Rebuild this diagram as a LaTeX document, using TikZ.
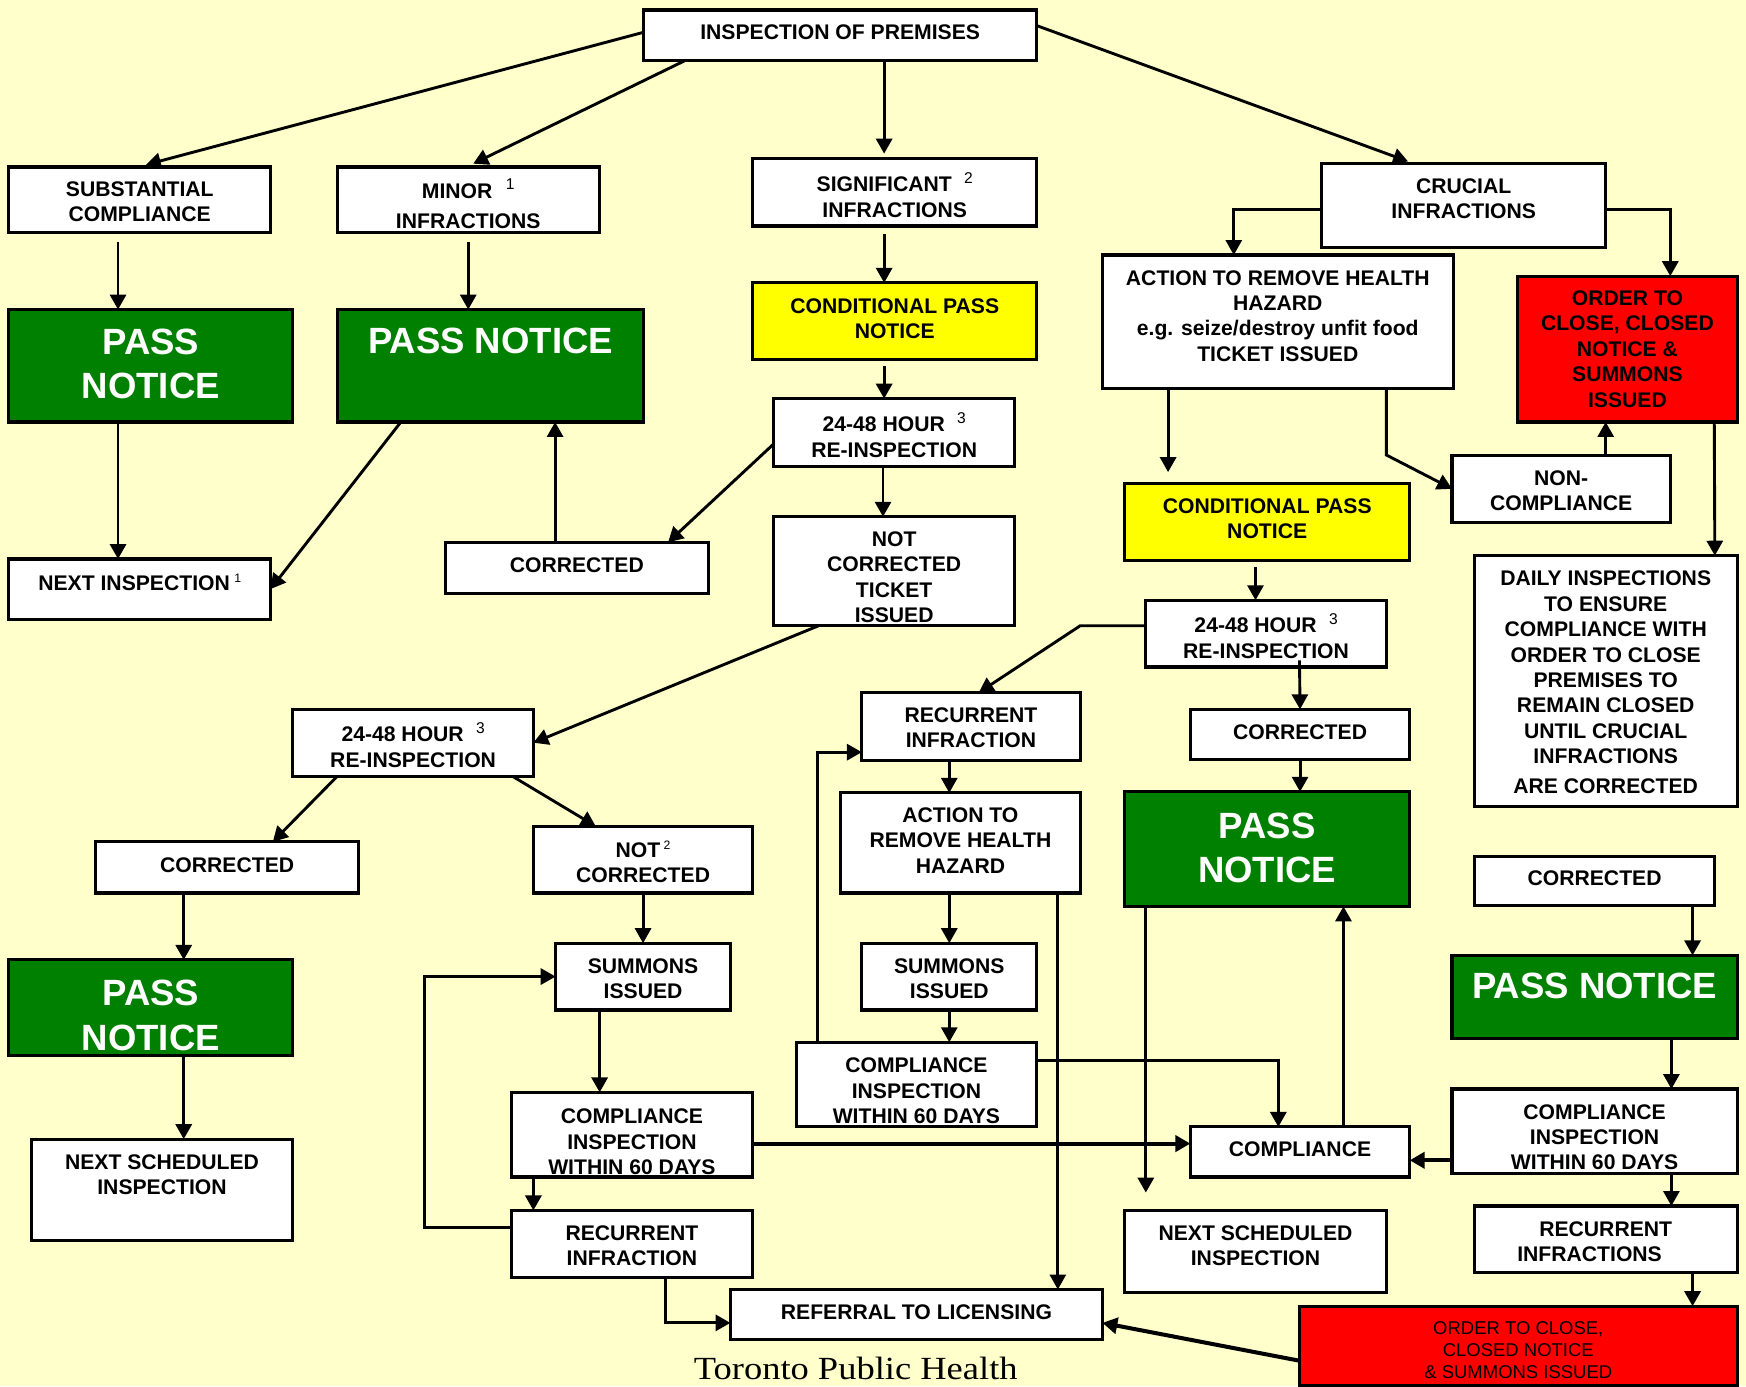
\documentclass[tikz,border=0pt]{standalone}
\usepackage{fontspec}
\usepackage{graphicx}
\setmainfont{Liberation Sans}
\newfontfamily\tphfont{Liberation Serif}
\usetikzlibrary{arrows.meta,calc}
\definecolor{bg}{HTML}{FFFFCC}
\definecolor{pgreen}{HTML}{008000}
\definecolor{pyellow}{HTML}{FFFF00}
\definecolor{pred}{HTML}{FF0000}
\newcommand\supA[1]{\raisebox{3.8pt}{\fontsize{7}{7}\selectfont\mdseries #1}}
\newcommand\supB[1]{\raisebox{3.3pt}{\fontsize{5.5}{5.5}\selectfont\mdseries #1}}
\tikzset{
 box/.style={draw=black, line width=1.4pt, fill=white, inner sep=0pt, outer sep=0pt},
 gbox/.style={box, fill=pgreen},
 ybox/.style={box, fill=pyellow},
 rbox/.style={box, fill=pred},
 txt/.style={align=center, inner sep=0pt, font=\fontsize{9.5}{11.4}\selectfont\bfseries},
 big/.style={txt, text=white, font=\fontsize{16.4}{20}\selectfont\bfseries},
 smalltxt/.style={txt, font=\fontsize{8.3}{10}\selectfont},
 conn/.style={line width=1.3pt, -{Triangle[length=6.7pt,width=7.2pt]}},
 thk/.style={conn, line width=1.8pt},
}
\newcommand\mkbox[9]{%
 \node[#6, minimum width={(#4-#2)*0.5pt}, minimum height={(#5-#3)*0.5pt}] (#1) at ({(#2+#4)/2},{(#3+#5)/2}) {};
 \node[#7] (#1-t) at ({(#2+#4)/2},#8) {#9};}
\begin{document}
\begin{tikzpicture}[x=0.5pt,y=-0.5pt]
\useasboundingbox (0,0) rectangle (1568,1245);
\fill[bg] (0,0) rectangle (1568,1245);

% boxes
\mkbox{ins}{578}{9}{931}{54}{box}{txt}{29}{INSPECTION OF PREMISES}
\mkbox{sub}{8}{150}{243}{209}{box}{txt}{181}{SUBSTANTIAL\\COMPLIANCE}
\mkbox{minor}{303}{150}{538}{209}{box}{txt}{183}{MINOR\hspace{6pt}\supA{1}\\[2.2pt]INFRACTIONS}
\mkbox{sig}{676}{142}{931}{203}{box}{txt}{175}{SIGNIFICANT\hspace{5.5pt}\supA{2}\\INFRACTIONS}
\mkbox{cru}{1187}{147}{1442}{222}{box}{txt}{178.5}{CRUCIAL\\INFRACTIONS}
\mkbox{p1}{8}{278}{263}{379}{gbox}{big}{326.7}{PASS\\NOTICE}
\mkbox{p2}{303}{278}{578}{379}{gbox}{big}{306.5}{PASS NOTICE}
\mkbox{cy}{676}{254}{931}{323}{ybox}{txt}{286}{CONDITIONAL PASS\\NOTICE}
\mkbox{at}{990}{229}{1305}{349}{box}{txt}{283.8}{ACTION TO REMOVE HEALTH\\HAZARD\\e.g. seize/destroy unfit food\\TICKET ISSUED}
\mkbox{red}{1363}{248}{1560}{379}{rbox}{txt}{313.5}{ORDER TO\\CLOSE, CLOSED\\NOTICE \&\\SUMMONS\\ISSUED}
\mkbox{r1}{695}{358}{911}{419}{box}{txt}{390.5}{24-48 HOUR\hspace{5.5pt}\supA{3}\\RE-INSPECTION}
\mkbox{ni}{8}{502}{243}{556}{box}{txt}{523}{NEXT INSPECTION\hspace{2pt}\supB{1}}
\mkbox{cm}{400}{487}{636}{533}{box}{txt}{507.5}{CORRECTED}
\mkbox{nct}{695}{464}{911}{562}{box}{txt}{518.3}{NOT\\CORRECTED\\TICKET\\ISSUED}
\mkbox{cy2}{1010}{434}{1266}{503}{ybox}{txt}{465.6}{CONDITIONAL PASS\\NOTICE}
\mkbox{nco}{1304}{409}{1500}{469}{box}{txt}{440.8}{NON-\\COMPLIANCE}
\mkbox{daily}{1324}{499}{1560}{724}{box}{txt}{612.8}{DAILY INSPECTIONS\\TO ENSURE\\COMPLIANCE WITH\\ORDER TO CLOSE\\PREMISES TO\\REMAIN CLOSED\\UNTIL CRUCIAL\\INFRACTIONS\\[2pt]ARE CORRECTED}
\mkbox{r3}{1029}{539}{1245}{599}{box}{txt}{571}{24-48 HOUR\hspace{5.5pt}\supA{3}\\RE-INSPECTION}
\mkbox{rm}{774}{622}{970}{683}{box}{txt}{653.8}{RECURRENT\\INFRACTION}
\mkbox{cr}{1069}{637}{1266}{682}{box}{txt}{658}{CORRECTED}
\mkbox{r2}{263}{637}{479}{697}{box}{txt}{669}{24-48 HOUR\hspace{5.5pt}\supA{3}\\RE-INSPECTION}
\mkbox{am}{755}{712}{970}{802}{box}{txt}{754.8}{ACTION TO\\REMOVE HEALTH\\HAZARD}
\mkbox{pc}{1010}{711}{1266}{814}{gbox}{big}{761.6}{PASS\\NOTICE}
\mkbox{cl}{86}{756}{322}{802}{box}{txt}{777}{CORRECTED}
\mkbox{nc2}{479}{742}{676}{802}{box}{txt}{774}{NOT\hspace{1.5pt}\supB{2}\\CORRECTED}
\mkbox{cfr}{1324}{769}{1540}{813}{box}{txt}{789}{CORRECTED}
\mkbox{p3}{8}{862}{263}{948}{gbox}{big}{911.8}{PASS\\NOTICE}
\mkbox{sl}{499}{847}{656}{907}{box}{txt}{879.2}{SUMMONS\\ISSUED}
\mkbox{sm}{774}{847}{931}{907}{box}{txt}{879.2}{SUMMONS\\ISSUED}
\mkbox{pf}{1304}{858}{1560}{933}{gbox}{big}{885}{PASS NOTICE}
\mkbox{cim}{715}{936}{931}{1012}{box}{txt}{979.6}{COMPLIANCE\\INSPECTION\\WITHIN 60 DAYS}
\mkbox{cil}{459}{981}{676}{1057}{box}{txt}{1025.6}{COMPLIANCE\\INSPECTION\\WITHIN 60 DAYS}
\mkbox{comp}{1069}{1012}{1266}{1057}{box}{txt}{1032}{COMPLIANCE}
\mkbox{cir}{1304}{978}{1560}{1054}{box}{txt}{1021.2}{COMPLIANCE\\INSPECTION\\WITHIN 60 DAYS}
\mkbox{nsl}{28}{1023}{263}{1114}{box}{txt}{1054.9}{NEXT SCHEDULED\\INSPECTION}
\mkbox{ril}{459}{1087}{676}{1147}{box}{txt}{1118.7}{RECURRENT\\INFRACTION}
\mkbox{nsr}{1010}{1087}{1245}{1161}{box}{txt}{1118.7}{NEXT SCHEDULED\\INSPECTION}
\mkbox{rir}{1324}{1083}{1560}{1143}{box}{txt}{1115}{RECURRENT\\INFRACTIONS\hspace*{14.5pt}}
\mkbox{ref}{656}{1158}{990}{1203}{box}{txt}{1178}{REFERRAL TO LICENSING}
\mkbox{rb}{1167}{1173}{1560}{1244}{rbox}{smalltxt}{1212.5}{ORDER TO CLOSE,\\CLOSED NOTICE\\\& SUMMONS ISSUED}

\node[font=\tphfont\fontsize{14.5}{14.5}\selectfont, anchor=base, inner sep=0pt] (tph) at (768.5,1239) {\scalebox{1.13}[1]{Toronto Public Health}};

% connectors
\draw[conn] ($(ins.west)+(0,-2.5)$) -- ($(sub.north)+(5.5,-2)$);
\draw[conn] ($(ins.south)+(-138.5,0)$) -- ($(minor.north)+(4.5,-3)$);
\draw[conn] ($(ins.south)+(39.5,0)$) -- ($(sig.north)+(-9.5,-4)$);
\draw[conn] ($(ins.east)+(0,-8.5)$) -- ($(cru.north)+(-50,-2)$);
\draw[conn] ($(sub.south)+(-19.5,8)$) -- ($(p1.north)+(-29.5,0)$);
\draw[conn] ($(minor.south)+(0,8)$) -- ($(p2.north)+(-20,0)$);
\draw[conn] ($(p1.south)+(-29.5,0)$) -- ($(ni.north)+(-19.5,0)$);
\draw[conn] ($(p2.south)+(-80.5,0)$) -- (ni.east);
\draw[conn] ($(cm.north)+(-19.5,0)$) -- ($(p2.south)+(58,0)$);
\draw[conn] ($(sig.south)+(-9.5,7)$) -- ($(cy.north)+(-9.5,0)$);
\draw[conn] ($(cy.south)+(-9.5,6)$) -- ($(r1.north)+(-9,0)$);
\draw[conn] ($(r1.west)+(0,10)$) -- ($(cm.north)+(82,0)$);
\draw[conn] ($(r1.south)+(-10,0)$) -- ($(nct.north)+(-10,0)$);
\draw[conn] ($(nct.south)+(-68,0)$) -- (r2.east);
\draw[conn] ($(r2.south)+(-68,0)$) -- ($(cl.north)+(41,0)$);
\draw[conn] ($(r2.south)+(89,0)$) -- ($(nc2.north)+(-42.5,0)$);
\draw[conn] ($(cl.south)+(-39,0)$) -- ($(p3.north)+(29.5,0)$);
\draw[conn] ($(p3.south)+(29.5,0)$) -- ($(nsl.north)+(19.5,0)$);
\draw[conn] (nc2.south) -- (sl.north);
\draw[conn] ($(sl.south)+(-39,0)$) -- ($(cil.north)+(-29,0)$);
\draw[conn] ($(cil.south)+(-88.5,0)$) -- ($(ril.north)+(-88.5,0)$);
\draw[conn] ($(ril.west)+(0,-15)$) -- ++(-77.5,0) |- (sl.west);
\draw[conn] ($(ril.south)+(30,0)$) |- ($(ref.west)+(0,7.5)$);
\draw[thk] ($(cil.east)+(0,8)$) -- ($(comp.west)+(0,-7.5)$);
\draw[conn] ($(cim.east)+(0,-22)$) -| ($(comp.north)+(-19.5,0)$);
\draw[conn] ($(comp.north)+(39,0)$) -- ($(pc.south)+(68.5,0)$);
\coordinate (pcend) at ($(pc.south)+(-109,257)$);
\draw[conn] ($(pc.south)+(-109,0)$) -- (pcend);
\draw[conn] ($(am.south)+(87.5,0)$) -- ($(ref.north)+(127,0)$);
\draw[conn] ($(am.south)+(-10,0)$) -- (sm.north);
\draw[conn] (sm.south) -- ($(cim.north)+(29.5,0)$);
\draw[conn] ($(cim.north)+(-89,0)$) |- ($(rm.west)+(0,23)$);
\draw[conn] ($(rm.south)+(-19.5,0)$) -- ($(am.north)+(-10,0)$);
\draw[conn] ($(r3.west)+(0,-7)$) -- ++(-59,0) -- ($(rm.north)+(7,0)$);
\draw[conn] ($(r3.south)+(30,-6)$) -- (cr.north);
\draw[conn] (cr.south) -- ($(pc.north)+(29.5,0)$);
\draw[conn] ($(cy2.south)+(-10.5,6)$) -- ($(r3.north)+(-9.5,0)$);
\coordinate (atend) at ($(cy2.north)+(-89,-10)$);
\draw[conn] ($(at.south)+(-98.5,0)$) -- (atend);
\draw[conn] ($(at.south)+(97.5,0)$) -- ++(0,59.6) -- (nco.west);
\draw[conn] ($(nco.north)+(40,0)$) -- ($(red.south)+(-19.5,0)$);
\draw[conn] ($(red.south)+(78,0)$) -- ($(daily.north)+(98,0)$);
\draw[conn] ($(cru.west)+(0,3.5)$) -| ($(at.north)+(-39.5,0)$);
\draw[conn] ($(cru.east)+(0,3.5)$) -| ($(red.north)+(38.5,0)$);
\draw[conn] ($(cfr.south)+(88,0)$) -- ($(pf.north)+(88,0)$);
\draw[conn] ($(pf.south)+(69,0)$) -- ($(cir.north)+(69,0)$);
\draw[thk] ($(cir.west)+(0,26)$) -- ($(comp.east)+(0,7.5)$);
\draw[conn] ($(cir.south)+(69,0)$) -- ($(rir.north)+(59,0)$);
\draw[conn] ($(rir.south)+(78,0)$) -- ($(rb.north)+(156.5,0)$);
\draw[thk] ($(rb.west)+(0,13.5)$) -- ($(ref.east)+(0,7.5)$);
\end{tikzpicture}
\end{document}
